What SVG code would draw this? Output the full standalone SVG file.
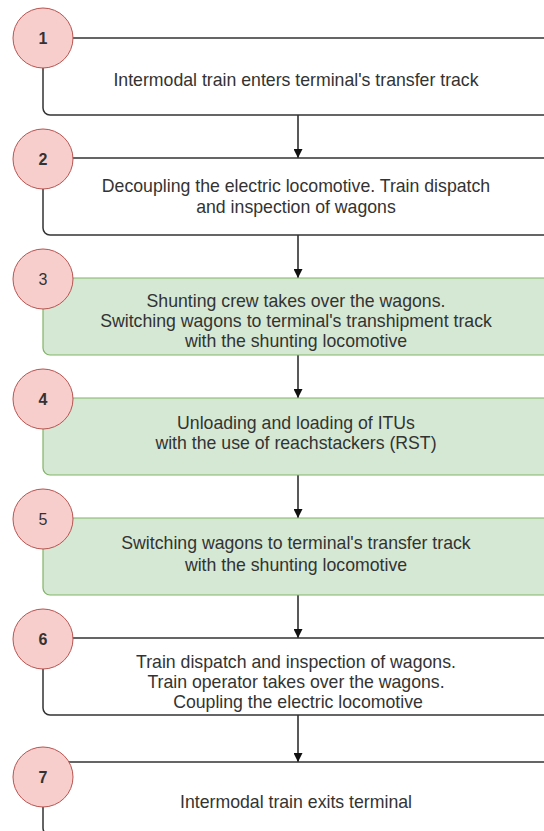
<svg xmlns="http://www.w3.org/2000/svg" width="544" height="831" viewBox="0 0 544 831">
  <style>
    .bw { fill: #ffffff; stroke: #333333; stroke-width: 1.5; }
    .bg { fill: #d5e8d4; stroke: #82b366; stroke-width: 1.2; }
    .c { fill: #f8cecc; stroke: #b85450; stroke-width: 1; }
    .t { font-family: "Liberation Sans", Arial, sans-serif; font-size: 17.7px; fill: #333333; text-anchor: middle; }
    .n { font-family: "Liberation Sans", Arial, sans-serif; font-size: 16px; font-weight: bold; fill: #333333; text-anchor: middle; }
    .nr { font-weight: normal; }
    .e { stroke: #222222; stroke-width: 1.5; fill: none; }
  </style>
  <defs>
    <marker id="ah" viewBox="0 0 10 10" refX="10" refY="5" markerWidth="10" markerHeight="9" markerUnits="userSpaceOnUse" orient="auto">
      <path d="M0,0 L10,5 L0,10 z" fill="#111111"/>
    </marker>
  </defs>
  <rect width="544" height="831" fill="#ffffff"/>
  <g id="connectors">
    <line class="e" x1="298" y1="115" x2="298" y2="158" marker-end="url(#ah)"/>
    <line class="e" x1="298" y1="235" x2="298" y2="278" marker-end="url(#ah)"/>
    <line class="e" x1="298" y1="355" x2="298" y2="398" marker-end="url(#ah)"/>
    <line class="e" x1="298" y1="475" x2="298" y2="518" marker-end="url(#ah)"/>
    <line class="e" x1="298" y1="595" x2="298" y2="638" marker-end="url(#ah)"/>
    <line class="e" x1="298" y1="715" x2="298" y2="762" marker-end="url(#ah)"/>
  </g>
  <g id="step1">
    <rect class="bw" x="43" y="38" width="510" height="77" rx="7"/>
    <circle class="c" cx="43" cy="38" r="30"/>
    <text class="n" x="43" y="44">1</text>
    <text class="t" x="296" y="86">Intermodal train enters terminal's transfer track</text>
  </g>
  <g id="step2">
    <rect class="bw" x="43" y="158" width="510" height="77" rx="7"/>
    <circle class="c" cx="43" cy="159" r="30"/>
    <text class="n" x="43" y="165">2</text>
    <text class="t" x="296" y="192">Decoupling the electric locomotive. Train dispatch</text>
    <text class="t" x="296" y="213">and inspection of wagons</text>
  </g>
  <g id="step3">
    <rect class="bg" x="43" y="278" width="510" height="77" rx="7"/>
    <circle class="c" cx="43" cy="279" r="30"/>
    <text class="n nr" x="43" y="285">3</text>
    <text class="t" x="296" y="307">Shunting crew takes over the wagons.</text>
    <text class="t" x="296" y="327">Switching wagons to terminal's transhipment track</text>
    <text class="t" x="296" y="347">with the shunting locomotive</text>
  </g>
  <g id="step4">
    <rect class="bg" x="43" y="398" width="510" height="77" rx="7"/>
    <circle class="c" cx="43" cy="399" r="30"/>
    <text class="n" x="43" y="405">4</text>
    <text class="t" x="296" y="428.5">Unloading and loading of ITUs</text>
    <text class="t" x="296" y="449">with the use of reachstackers (RST)</text>
  </g>
  <g id="step5">
    <rect class="bg" x="43" y="518" width="510" height="77" rx="7"/>
    <circle class="c" cx="43" cy="519" r="30"/>
    <text class="n nr" x="43" y="525">5</text>
    <text class="t" x="296" y="548.5">Switching wagons to terminal's transfer track</text>
    <text class="t" x="296" y="571">with the shunting locomotive</text>
  </g>
  <g id="step6">
    <rect class="bw" x="43" y="638" width="510" height="77" rx="7"/>
    <circle class="c" cx="43" cy="639" r="30"/>
    <text class="n" x="43" y="645">6</text>
    <text class="t" x="296" y="668">Train dispatch and inspection of wagons.</text>
    <text class="t" x="296" y="688">Train operator takes over the wagons.</text>
    <text class="t" x="298" y="708">Coupling the electric locomotive</text>
  </g>
  <g id="step7">
    <rect class="bw" x="43" y="762" width="510" height="73" rx="7"/>
    <circle class="c" cx="43" cy="777" r="30"/>
    <text class="n" x="43" y="783">7</text>
    <text class="t" x="296" y="808">Intermodal train exits terminal</text>
  </g>
</svg>
